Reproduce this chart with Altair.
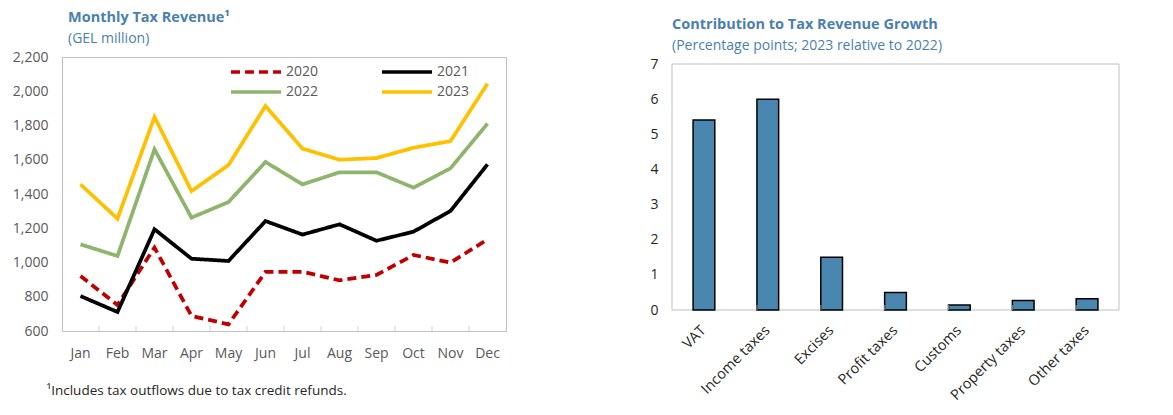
import altair as alt
import pandas as pd

FONT = "Open Sans"
BLUE_TITLE = "#4a7fb0"
GRID_GRAY = "#bfbfbf"
LABEL_GRAY = "#595959"

# ---- Monthly tax revenue (GEL million) ----
months = ["Jan", "Feb", "Mar", "Apr", "May", "Jun",
          "Jul", "Aug", "Sep", "Oct", "Nov", "Dec"]
years = ["2020", "2021", "2022", "2023"]
rev_2020 = [921, 752, 1087, 688, 639, 945, 946, 896, 927, 1044, 999, 1135]
rev_2021 = [804, 711, 1194, 1022, 1009, 1242, 1163, 1223, 1127, 1180, 1301, 1573]
rev_2022 = [1106, 1038, 1661, 1262, 1353, 1587, 1456, 1527, 1527, 1437, 1550, 1811]
rev_2023 = [1456, 1256, 1850, 1417, 1569, 1914, 1665, 1600, 1610, 1670, 1709, 2044]
year_colors = ["#c00000", "#000000", "#8fb56d", "#ffc000"]
year_dashes = [[9, 5], [1, 0], [1, 0], [1, 0]]
rev_ticks = [600, 800, 1000, 1200, 1400, 1600, 1800, 2000, 2200]

# ---- Contribution to growth (percentage points) ----
tax_types = ["VAT", "Income taxes", "Excises", "Profit taxes",
             "Customs", "Property taxes", "Other taxes"]
contrib = [5.41, 6.0, 1.5, 0.5, 0.14, 0.27, 0.32]
pp_ticks = [0, 1, 2, 3, 4, 5, 6, 7]

rev = pd.DataFrame(
    [
        {"month": m, "year": y, "value": v, "order": i}
        for y, series in zip(years, [rev_2020, rev_2021, rev_2022, rev_2023])
        for i, (m, v) in enumerate(zip(months, series))
    ]
)
month_edges = pd.DataFrame({"month": months[1:]})
bars = pd.DataFrame({"tax": tax_types, "pp": contrib})
tax_edges = pd.DataFrame({"tax": tax_types[1:]})
frame_box = pd.DataFrame({"lo": [pp_ticks[0]], "hi": [pp_ticks[-1]]})

month_scale = alt.Scale(domain=months, paddingInner=0, paddingOuter=0)
rev_scale = alt.Scale(domain=[600, 2200], nice=False)

rev_axis = alt.Axis(
    title=None,
    values=rev_ticks,
    format=",d",
    labelOverlap=False,
    grid=False,
    ticks=False,
    domain=False,
    labelColor=LABEL_GRAY,
    labelFontSize=14,
    labelPadding=14,
)
month_axis = alt.Axis(
    title="¹Includes tax outflows due to tax credit refunds.",
    titleX=-16,
    titleY=63,
    titleAlign="left",
    titleBaseline="alphabetic",
    titleAnchor="start",
    titleFontWeight="normal",
    titleFontSize=13.5,
    titleColor="#262626",
    labelAngle=0,
    labelColor=LABEL_GRAY,
    labelFontSize=14,
    labelPadding=15,
    ticks=False,
    domain=False,
)

# wide line swatch: unit path stretched so the legend rows stay compact
swatch = "M-2.5,0L2.5,0"
year_legend = alt.Legend(
    title=None,
    orient="none",
    legendX=182,
    legendY=3,
    columns=2,
    direction="horizontal",
    columnPadding=56,
    rowPadding=1,
    symbolType=swatch,
    symbolSize=400,
    symbolStrokeWidth=3.5,
    labelFontSize=14,
    labelColor=LABEL_GRAY,
    labelOffset=18,
)

lines = alt.Chart(rev).mark_line(strokeWidth=3.75, strokeCap="butt").encode(
    x=alt.X("month:N", scale=month_scale, axis=month_axis),
    y=alt.Y("value:Q", scale=rev_scale, axis=rev_axis),
    color=alt.Color(
        "year:N",
        scale=alt.Scale(domain=years, range=year_colors),
        legend=year_legend,
    ),
    strokeDash=alt.StrokeDash(
        "year:N",
        scale=alt.Scale(domain=years, range=year_dashes),
        legend=year_legend,
    ),
    order=alt.Order("order:Q"),
    detail="year:N",
)

month_ticks = alt.Chart(month_edges).mark_tick(
    orient="vertical", size=10, thickness=1, color=GRID_GRAY, clip=True
).encode(
    x=alt.X("month:N", scale=month_scale, bandPosition=0, axis=month_axis),
    y=alt.Y(datum=rev_ticks[0], scale=rev_scale, axis=rev_axis),
)

left = alt.layer(lines, month_ticks).properties(
    width=444,
    height=274,
    title=alt.TitleParams(
        text="Monthly Tax Revenue¹",
        subtitle="(GEL million)",
        anchor="start",
        frame="group",
        dx=6,
        offset=3,
        fontSize=14.5,
        fontWeight="bold",
        color=BLUE_TITLE,
        subtitleColor=BLUE_TITLE,
        subtitleFontSize=14,
        subtitlePadding=7,
    ),
)

tax_scale = alt.Scale(domain=tax_types, paddingInner=0.66, paddingOuter=0.33)
pp_scale = alt.Scale(domain=[0, 7.2], nice=False)

pp_axis = alt.Axis(
    title=None,
    values=pp_ticks,
    labelOverlap=False,
    grid=False,
    ticks=False,
    domain=False,
    labelColor="#262626",
    labelFontSize=14,
    labelPadding=14,
)
tax_axis = alt.Axis(
    title=None,
    labelAngle=-45,
    labelAlign="right",
    labelBaseline="middle",
    labelColor="#262626",
    labelFontSize=14.5,
    labelPadding=18,
    ticks=False,
    domain=False,
)

bar_marks = alt.Chart(bars).mark_bar(
    color="#4a87b0", stroke="#000000", strokeWidth=1.5
).encode(
    x=alt.X("tax:N", scale=tax_scale, sort=tax_types, axis=tax_axis),
    y=alt.Y("pp:Q", scale=pp_scale, axis=pp_axis),
)

# plot-area frame spanning 0 to 7 percentage points
bar_frame = alt.Chart(frame_box).mark_rect(
    fill=None, stroke=GRID_GRAY, strokeWidth=1
).encode(
    x=alt.value(0),
    x2=alt.value("width"),
    y=alt.Y("hi:Q", scale=pp_scale, axis=pp_axis),
    y2="lo:Q",
)

tax_ticks = alt.Chart(tax_edges).mark_tick(
    orient="vertical", size=10, thickness=1, color=GRID_GRAY, clip=True
).encode(
    x=alt.X("tax:N", scale=tax_scale, sort=tax_types, bandPosition=0,
            axis=tax_axis),
    y=alt.Y(datum=pp_ticks[0], scale=pp_scale, axis=pp_axis),
)

right = alt.layer(bar_frame, bar_marks, tax_ticks).properties(
    width=447,
    height=253,
    view=alt.ViewConfig(stroke=None),
    title=alt.TitleParams(
        text="Contribution to Tax Revenue Growth",
        subtitle="(Percentage points; 2023 relative to 2022)",
        anchor="start",
        frame="group",
        dx=0,
        offset=3,
        fontSize=14.5,
        fontWeight="bold",
        color=BLUE_TITLE,
        subtitleColor=BLUE_TITLE,
        subtitleFontSize=14,
        subtitlePadding=7,
    ),
)

chart = (
    alt.hconcat(left, right, spacing=142)
    .properties(padding={"left": 11, "top": 9, "right": 5, "bottom": 5})
    .configure(font=FONT)
    .configure_view(stroke=GRID_GRAY, strokeWidth=1)
    .configure_title(font=FONT, subtitleFont=FONT)
)

chart.save("out.html", embed_options={"renderer": "svg", "actions": False})
